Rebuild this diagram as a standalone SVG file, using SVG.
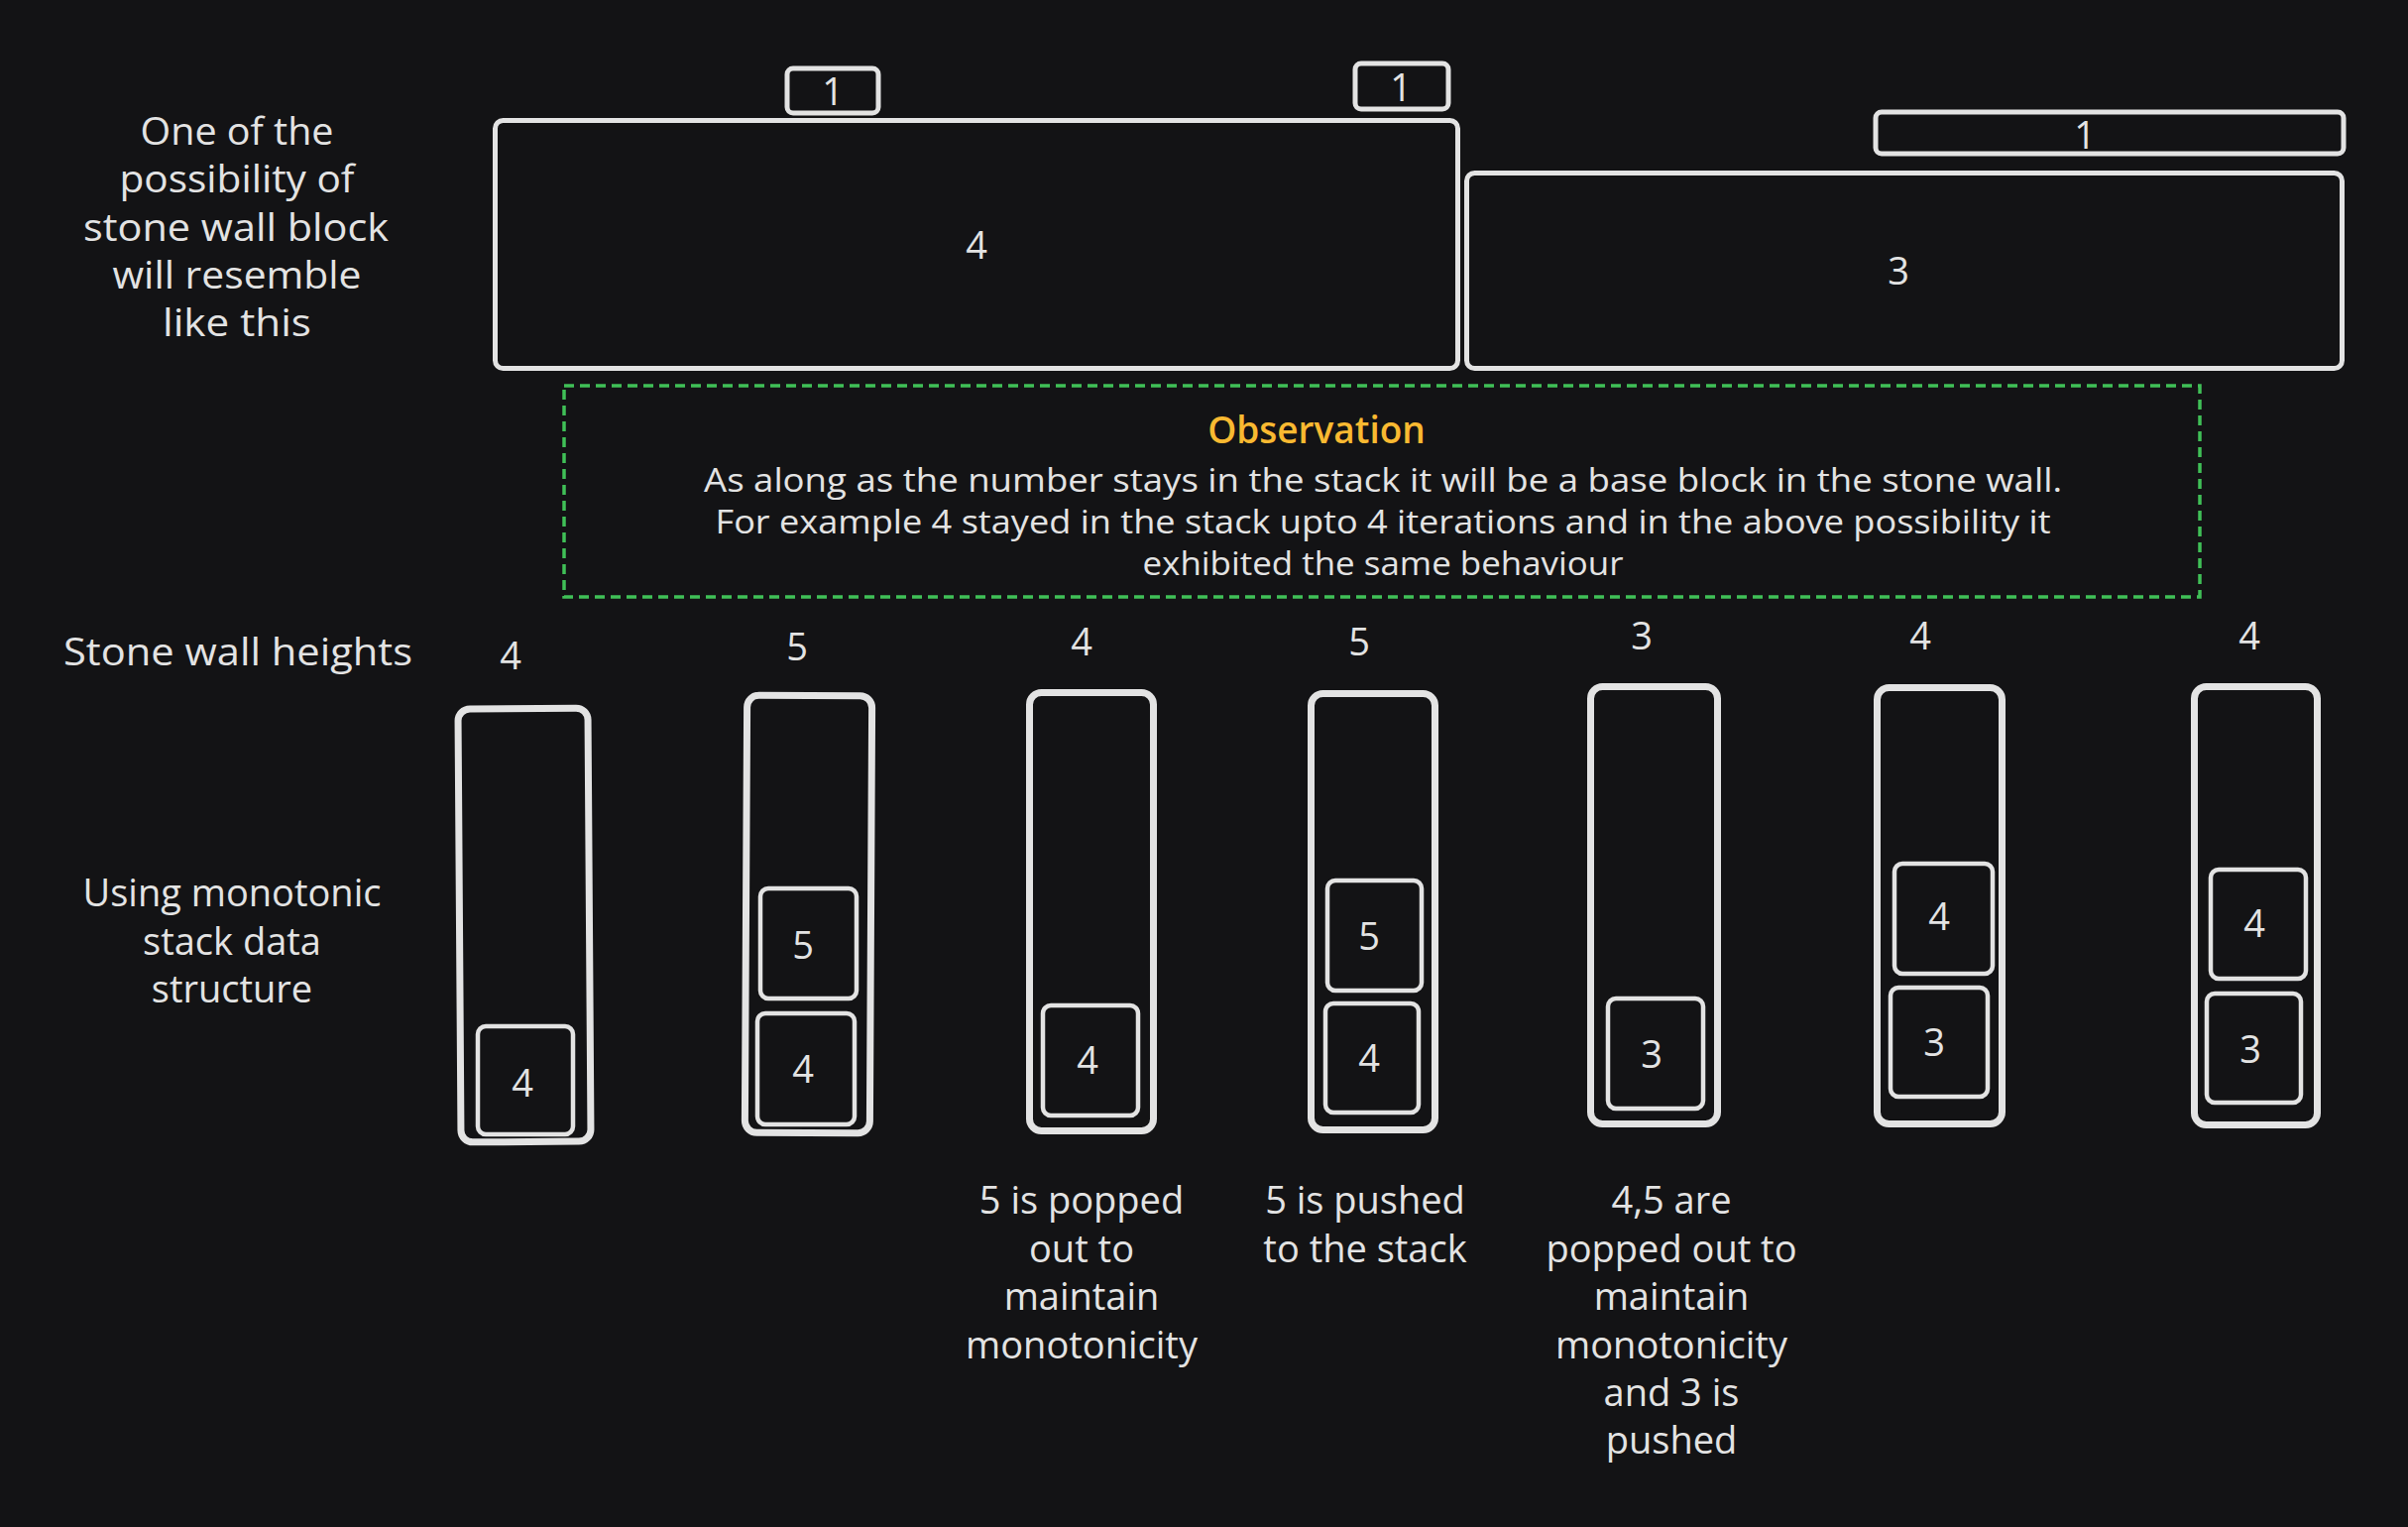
<svg xmlns="http://www.w3.org/2000/svg" width="2429" height="1540" viewBox="0 0 2429 1540">
<style>
.t{font-family:"Open Sans","Liberation Sans",sans-serif;fill:#e3e3e3;text-anchor:middle;dominant-baseline:central}
.lbl{font-size:38px}
.num{font-size:38px}
.obs{font-size:32px}
.title{font-size:37px;fill:#f9b931;font-weight:600}
.blk{fill:none;stroke:#e3e3e3;stroke-width:5}
.stk{fill:none;stroke:#e3e3e3;stroke-width:7}
.box{fill:none;stroke:#e3e3e3;stroke-width:4.5}
.dash{fill:none;stroke:#40c057;stroke-width:3.5;stroke-dasharray:10 6}
</style>
<rect width="2429" height="1540" fill="#131315"/>

<g id="label-possibility">
<text class="t lbl" x="239" y="131" textLength="195" lengthAdjust="spacingAndGlyphs">One of the</text>
<text class="t lbl" x="239" y="179" textLength="237" lengthAdjust="spacingAndGlyphs">possibility of</text>
<text class="t lbl" x="238" y="228" textLength="308" lengthAdjust="spacingAndGlyphs">stone wall block</text>
<text class="t lbl" x="239" y="276" textLength="251" lengthAdjust="spacingAndGlyphs">will resemble</text>
<text class="t lbl" x="239" y="324" textLength="150" lengthAdjust="spacingAndGlyphs">like this</text>
</g>

<g id="wall-block-4">
<rect class="blk" x="499.5" y="121.5" width="971" height="250" rx="8"/>
<text class="t num" x="985" y="246">4</text>
</g>
<g id="wall-block-3">
<rect class="blk" x="1479.5" y="174.5" width="883" height="197" rx="8"/>
<text class="t num" x="1915" y="272">3</text>
</g>
<g id="wall-top-1a">
<rect class="blk" x="794" y="69" width="92" height="45" rx="6"/>
<text class="t num" x="840" y="91">1</text>
</g>
<g id="wall-top-1b">
<rect class="blk" x="1367" y="64" width="94" height="46" rx="6"/>
<text class="t num" x="1413" y="87">1</text>
</g>
<g id="wall-top-1c">
<rect class="blk" x="1892" y="113" width="472" height="42" rx="6"/>
<text class="t num" x="2103" y="135">1</text>
</g>

<g id="observation">
<rect class="dash" x="569" y="389" width="1650" height="213"/>
<text class="t title" x="1328" y="432">Observation</text>
<text class="t obs" x="1395" y="483" textLength="1370" lengthAdjust="spacingAndGlyphs">As along as the number stays in the stack it will be a base block in the stone wall.</text>
<text class="t obs" x="1395" y="525" textLength="1347" lengthAdjust="spacingAndGlyphs">For example 4 stayed in the stack upto 4 iterations and in the above possibility it</text>
<text class="t obs" x="1395" y="567" textLength="485" lengthAdjust="spacingAndGlyphs">exhibited the same behaviour</text>
</g>

<g id="label-heights">
<text class="t lbl" x="240" y="656" textLength="352" lengthAdjust="spacingAndGlyphs">Stone wall heights</text>
</g>
<g id="label-stack">
<text class="t lbl" x="234"><tspan x="234" y="899">Using monotonic</tspan><tspan x="234" y="948">stack data</tspan><tspan x="234" y="996">structure</tspan></text>
</g>

<g id="heights">
<text class="t num" x="515" y="660">4</text>
<text class="t num" x="804" y="651">5</text>
<text class="t num" x="1091" y="646">4</text>
<text class="t num" x="1371" y="646">5</text>
<text class="t num" x="1656" y="640">3</text>
<text class="t num" x="1937" y="640">4</text>
<text class="t num" x="2269" y="640">4</text>
</g>

<g id="stack-1">
<rect class="stk" x="463.5" y="714.5" width="131" height="437" rx="12" transform="rotate(-0.4 529 933)"/>
<rect class="box" x="482" y="1035" width="96" height="109" rx="8"/>
<text class="t num" x="527" y="1091">4</text>
</g>
<g id="stack-2">
<rect class="stk" x="752.5" y="701.5" width="126" height="441" rx="12" transform="rotate(0.3 815 922)"/>
<rect class="box" x="767" y="896" width="97" height="111" rx="8"/>
<text class="t num" x="810" y="952">5</text>
<rect class="box" x="764" y="1022" width="98" height="112" rx="8"/>
<text class="t num" x="810" y="1077">4</text>
</g>
<g id="stack-3">
<rect class="stk" x="1038.5" y="698.5" width="125" height="442" rx="12"/>
<rect class="box" x="1052" y="1014" width="96" height="111" rx="8"/>
<text class="t num" x="1097" y="1068">4</text>
</g>
<g id="stack-4">
<rect class="stk" x="1322.5" y="699.5" width="125" height="440" rx="12"/>
<rect class="box" x="1339" y="888" width="95" height="111" rx="8"/>
<text class="t num" x="1381" y="943">5</text>
<rect class="box" x="1337" y="1012" width="94" height="110" rx="8"/>
<text class="t num" x="1381" y="1066">4</text>
</g>
<g id="stack-5">
<rect class="stk" x="1604.5" y="692.5" width="128" height="441" rx="12"/>
<rect class="box" x="1622" y="1007" width="96" height="111" rx="8"/>
<text class="t num" x="1666" y="1062">3</text>
</g>
<g id="stack-6">
<rect class="stk" x="1893.5" y="693.5" width="126" height="440" rx="12"/>
<rect class="box" x="1911" y="871" width="99" height="111" rx="8"/>
<text class="t num" x="1956" y="923">4</text>
<rect class="box" x="1907" y="996" width="98" height="110" rx="8"/>
<text class="t num" x="1951" y="1050">3</text>
</g>
<g id="stack-7">
<rect class="stk" x="2213.5" y="692.5" width="124" height="442" rx="12"/>
<rect class="box" x="2230" y="877" width="96" height="110" rx="8"/>
<text class="t num" x="2274" y="930">4</text>
<rect class="box" x="2226" y="1002" width="95" height="110" rx="8"/>
<text class="t num" x="2270" y="1057">3</text>
</g>

<g id="note-popped">
<text class="t lbl" x="1091"><tspan x="1091" y="1209">5 is popped</tspan><tspan x="1091" y="1258">out to</tspan><tspan x="1091" y="1306">maintain</tspan><tspan x="1091" y="1355">monotonicity</tspan></text>
</g>
<g id="note-pushed">
<text class="t lbl" x="1377"><tspan x="1377" y="1209">5 is pushed</tspan><tspan x="1377" y="1258">to the stack</tspan></text>
</g>
<g id="note-popped-pushed">
<text class="t lbl" x="1686"><tspan x="1686" y="1209">4,5 are</tspan><tspan x="1686" y="1258">popped out to</tspan><tspan x="1686" y="1306">maintain</tspan><tspan x="1686" y="1355">monotonicity</tspan><tspan x="1686" y="1403">and 3 is</tspan><tspan x="1686" y="1451">pushed</tspan></text>
</g>

<g id="connectors"></g>
</svg>
